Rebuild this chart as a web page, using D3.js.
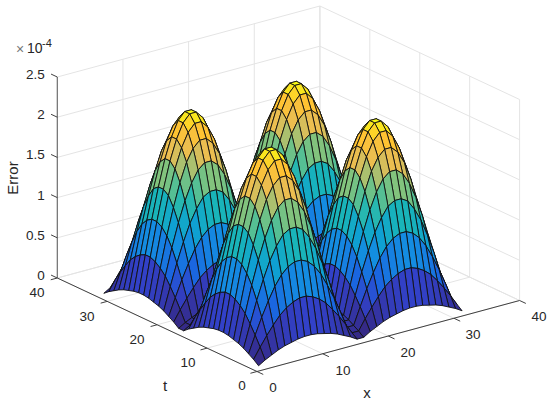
<!DOCTYPE html>
<html>
<head>
<meta charset="utf-8">
<script src="https://cdn.jsdelivr.net/npm/d3@7"></script>
<style>
  html, body { margin: 0; padding: 0; background: #fff; }
  svg { display: block; }
  text { font-family: "Liberation Sans", Arial, sans-serif; fill: #262626; }
</style>
</head>
<body>
<div id="my_dataviz"></div>
<script>
// values
var xValues = [1,2,3,4,5,6,7,8,9,10,11,12,13,14,15,16,17,18,19,20,21,22,23,24,25,26,27,28,29,30,31,32];
var tValues = [1,2,3,4,5,6,7,8,9,10,11,12,13,14,15,16,17,18,19,20,21,22,23,24,25,26,27,28,29,30,31,32];

var xTicks = [0, 10, 20, 30, 40];
var tTicks = [0, 10, 20, 30, 40];
var zTicks = [0, 0.5, 1, 1.5, 2, 2.5];
var zTickLabels = ["0", "0.5", "1", "1.5", "2", "2.5"];

// Error in units of 1e-4, one row per t, one column per x
var errorGrid = [
[.02,.07,.11,.15,.18,.20,.22,.23,.23,.22,.20,.18,.15,.11,.07,.02,.02,.07,.11,.15,.18,.20,.22,.23,.23,.22,.20,.18,.15,.11,.07,.02],
[.07,.20,.32,.43,.53,.60,.65,.68,.68,.65,.60,.53,.43,.32,.20,.07,.07,.20,.32,.43,.53,.60,.65,.68,.68,.65,.60,.53,.43,.32,.20,.07],
[.11,.32,.52,.70,.86,.98,1.06,1.10,1.10,1.06,.98,.86,.70,.52,.32,.11,.11,.32,.52,.70,.86,.98,1.06,1.10,1.10,1.06,.98,.86,.70,.52,.32,.11],
[.15,.43,.70,.94,1.15,1.31,1.43,1.48,1.48,1.43,1.31,1.15,.94,.70,.43,.15,.15,.43,.70,.94,1.15,1.31,1.43,1.48,1.48,1.43,1.31,1.15,.94,.70,.43,.15],
[.18,.53,.86,1.15,1.40,1.60,1.74,1.81,1.81,1.74,1.60,1.40,1.15,.86,.53,.18,.18,.53,.86,1.15,1.40,1.60,1.74,1.81,1.81,1.74,1.60,1.40,1.15,.86,.53,.18],
[.20,.60,.98,1.31,1.60,1.83,1.98,2.06,2.06,1.98,1.83,1.60,1.31,.98,.60,.20,.20,.60,.98,1.31,1.60,1.83,1.98,2.06,2.06,1.98,1.83,1.60,1.31,.98,.60,.20],
[.22,.65,1.06,1.43,1.74,1.98,2.15,2.24,2.24,2.15,1.98,1.74,1.43,1.06,.65,.22,.22,.65,1.06,1.43,1.74,1.98,2.15,2.24,2.24,2.15,1.98,1.74,1.43,1.06,.65,.22],
[.23,.68,1.10,1.48,1.81,2.06,2.24,2.33,2.33,2.24,2.06,1.81,1.48,1.10,.68,.23,.23,.68,1.10,1.48,1.81,2.06,2.24,2.33,2.33,2.24,2.06,1.81,1.48,1.10,.68,.23],
[.23,.68,1.10,1.48,1.81,2.06,2.24,2.33,2.33,2.24,2.06,1.81,1.48,1.10,.68,.23,.23,.68,1.10,1.48,1.81,2.06,2.24,2.33,2.33,2.24,2.06,1.81,1.48,1.10,.68,.23],
[.22,.65,1.06,1.43,1.74,1.98,2.15,2.24,2.24,2.15,1.98,1.74,1.43,1.06,.65,.22,.22,.65,1.06,1.43,1.74,1.98,2.15,2.24,2.24,2.15,1.98,1.74,1.43,1.06,.65,.22],
[.20,.60,.98,1.31,1.60,1.83,1.98,2.06,2.06,1.98,1.83,1.60,1.31,.98,.60,.20,.20,.60,.98,1.31,1.60,1.83,1.98,2.06,2.06,1.98,1.83,1.60,1.31,.98,.60,.20],
[.18,.53,.86,1.15,1.40,1.60,1.74,1.81,1.81,1.74,1.60,1.40,1.15,.86,.53,.18,.18,.53,.86,1.15,1.40,1.60,1.74,1.81,1.81,1.74,1.60,1.40,1.15,.86,.53,.18],
[.15,.43,.70,.94,1.15,1.31,1.43,1.48,1.48,1.43,1.31,1.15,.94,.70,.43,.15,.15,.43,.70,.94,1.15,1.31,1.43,1.48,1.48,1.43,1.31,1.15,.94,.70,.43,.15],
[.11,.32,.52,.70,.86,.98,1.06,1.10,1.10,1.06,.98,.86,.70,.52,.32,.11,.11,.32,.52,.70,.86,.98,1.06,1.10,1.10,1.06,.98,.86,.70,.52,.32,.11],
[.07,.20,.32,.43,.53,.60,.65,.68,.68,.65,.60,.53,.43,.32,.20,.07,.07,.20,.32,.43,.53,.60,.65,.68,.68,.65,.60,.53,.43,.32,.20,.07],
[.02,.07,.11,.15,.18,.20,.22,.23,.23,.22,.20,.18,.15,.11,.07,.02,.02,.07,.11,.15,.18,.20,.22,.23,.23,.22,.20,.18,.15,.11,.07,.02],
[.02,.07,.11,.15,.18,.20,.22,.23,.23,.22,.20,.18,.15,.11,.07,.02,.02,.07,.11,.15,.18,.20,.22,.23,.23,.22,.20,.18,.15,.11,.07,.02],
[.07,.20,.32,.43,.53,.60,.65,.68,.68,.65,.60,.53,.43,.32,.20,.07,.07,.20,.32,.43,.53,.60,.65,.68,.68,.65,.60,.53,.43,.32,.20,.07],
[.11,.32,.52,.70,.86,.98,1.06,1.10,1.10,1.06,.98,.86,.70,.52,.32,.11,.11,.32,.52,.70,.86,.98,1.06,1.10,1.10,1.06,.98,.86,.70,.52,.32,.11],
[.15,.43,.70,.94,1.15,1.31,1.43,1.48,1.48,1.43,1.31,1.15,.94,.70,.43,.15,.15,.43,.70,.94,1.15,1.31,1.43,1.48,1.48,1.43,1.31,1.15,.94,.70,.43,.15],
[.18,.53,.86,1.15,1.40,1.60,1.74,1.81,1.81,1.74,1.60,1.40,1.15,.86,.53,.18,.18,.53,.86,1.15,1.40,1.60,1.74,1.81,1.81,1.74,1.60,1.40,1.15,.86,.53,.18],
[.20,.60,.98,1.31,1.60,1.83,1.98,2.06,2.06,1.98,1.83,1.60,1.31,.98,.60,.20,.20,.60,.98,1.31,1.60,1.83,1.98,2.06,2.06,1.98,1.83,1.60,1.31,.98,.60,.20],
[.22,.65,1.06,1.43,1.74,1.98,2.15,2.24,2.24,2.15,1.98,1.74,1.43,1.06,.65,.22,.22,.65,1.06,1.43,1.74,1.98,2.15,2.24,2.24,2.15,1.98,1.74,1.43,1.06,.65,.22],
[.23,.68,1.10,1.48,1.81,2.06,2.24,2.33,2.33,2.24,2.06,1.81,1.48,1.10,.68,.23,.23,.68,1.10,1.48,1.81,2.06,2.24,2.33,2.33,2.24,2.06,1.81,1.48,1.10,.68,.23],
[.23,.68,1.10,1.48,1.81,2.06,2.24,2.33,2.33,2.24,2.06,1.81,1.48,1.10,.68,.23,.23,.68,1.10,1.48,1.81,2.06,2.24,2.33,2.33,2.24,2.06,1.81,1.48,1.10,.68,.23],
[.22,.65,1.06,1.43,1.74,1.98,2.15,2.24,2.24,2.15,1.98,1.74,1.43,1.06,.65,.22,.22,.65,1.06,1.43,1.74,1.98,2.15,2.24,2.24,2.15,1.98,1.74,1.43,1.06,.65,.22],
[.20,.60,.98,1.31,1.60,1.83,1.98,2.06,2.06,1.98,1.83,1.60,1.31,.98,.60,.20,.20,.60,.98,1.31,1.60,1.83,1.98,2.06,2.06,1.98,1.83,1.60,1.31,.98,.60,.20],
[.18,.53,.86,1.15,1.40,1.60,1.74,1.81,1.81,1.74,1.60,1.40,1.15,.86,.53,.18,.18,.53,.86,1.15,1.40,1.60,1.74,1.81,1.81,1.74,1.60,1.40,1.15,.86,.53,.18],
[.15,.43,.70,.94,1.15,1.31,1.43,1.48,1.48,1.43,1.31,1.15,.94,.70,.43,.15,.15,.43,.70,.94,1.15,1.31,1.43,1.48,1.48,1.43,1.31,1.15,.94,.70,.43,.15],
[.11,.32,.52,.70,.86,.98,1.06,1.10,1.10,1.06,.98,.86,.70,.52,.32,.11,.11,.32,.52,.70,.86,.98,1.06,1.10,1.10,1.06,.98,.86,.70,.52,.32,.11],
[.07,.20,.32,.43,.53,.60,.65,.68,.68,.65,.60,.53,.43,.32,.20,.07,.07,.20,.32,.43,.53,.60,.65,.68,.68,.65,.60,.53,.43,.32,.20,.07],
[.02,.07,.11,.15,.18,.20,.22,.23,.23,.22,.20,.18,.15,.11,.07,.02,.02,.07,.11,.15,.18,.20,.22,.23,.23,.22,.20,.18,.15,.11,.07,.02]
];

// colormap, stops are error values
var colorStops = [0.02, 0.23, 0.43, 0.68, 0.86, 1.10, 1.29, 1.48, 1.66, 1.81, 2.06, 2.24, 2.33];
var colorValues = ["#352a87", "#3241c8", "#1a66e0", "#148ce1", "#0fa0d2", "#19b4b9", "#50bf97", "#82c37d", "#c0be68", "#ebbe50", "#ffc332", "#fae61e", "#f9fb15"];

var width = 550, height = 399;

var svg = d3.select("#my_dataviz")
  .append("svg")
  .attr("width", width)
  .attr("height", height);

// oblique projection: each data axis gets one scale per screen direction
var origin = [257, 371.5];
var xToPx = d3.scaleLinear().domain([0, 40]).range([0, 262.6]);
var xToPy = d3.scaleLinear().domain([0, 40]).range([0, -71]);
var tToPx = d3.scaleLinear().domain([0, 40]).range([0, -199.7]);
var tToPy = d3.scaleLinear().domain([0, 40]).range([0, -93.5]);
var zToPy = d3.scaleLinear().domain([0, 2.5]).range([0, -201]);

function project(x, t, z) {
  return [origin[0] + xToPx(x) + tToPx(t), origin[1] + xToPy(x) + tToPy(t) + zToPy(z)];
}

var color = d3.scaleLinear()
  .domain(colorStops)
  .range(colorValues)
  .interpolate(d3.interpolateRgb);

var line = d3.line();

function seg(g, a, b, stroke, w) {
  g.append("path")
    .attr("d", line([a, b]))
    .attr("fill", "none")
    .attr("stroke", stroke)
    .attr("stroke-width", w);
}

// grid on the two back walls and the floor
var grid = svg.append("g");
var gridColor = "#e4e4e4";

zTicks.forEach(function(z) {
  seg(grid, project(0, 40, z), project(40, 40, z), gridColor, 1);
  seg(grid, project(40, 40, z), project(40, 0, z), gridColor, 1);
});
xTicks.forEach(function(x) {
  seg(grid, project(x, 40, 0), project(x, 40, 2.5), gridColor, 1);
  seg(grid, project(x, 0, 0), project(x, 40, 0), gridColor, 1);
});
tTicks.forEach(function(t) {
  seg(grid, project(40, t, 0), project(40, t, 2.5), gridColor, 1);
  seg(grid, project(0, t, 0), project(40, t, 0), gridColor, 1);
});

// axis lines and ticks
var axes = svg.append("g");
var axisColor = "#404040";

seg(axes, project(0, 0, 0), project(40, 0, 0), axisColor, 1);
seg(axes, project(0, 0, 0), project(0, 40, 0), axisColor, 1);
seg(axes, project(0, 40, 0), project(0, 40, 2.5), "#666", 1.1);

var tickLenT = 1.25, tickLenX = 1;
xTicks.forEach(function(x) {
  seg(axes, project(x, 0, 0), project(x, -tickLenT, 0), axisColor, 1);
});
tTicks.forEach(function(t) {
  seg(axes, project(0, t, 0), project(-tickLenX, t, 0), axisColor, 1);
});
zTicks.forEach(function(z) {
  seg(axes, project(0, 40, z), project(0, 40 + tickLenT, z), axisColor, 1);
});

// surface, painted from the back corner to the front
var cells = [];
for (var j = tValues.length - 2; j >= 0; j--) {
  for (var i = xValues.length - 2; i >= 0; i--) {
    cells.push({i: i, j: j});
  }
}

svg.append("g")
  .selectAll("path")
  .data(cells)
  .enter()
  .append("path")
  .attr("d", function(d) {
    var i = d.i, j = d.j;
    return line([
      project(xValues[i], tValues[j], errorGrid[j][i]),
      project(xValues[i + 1], tValues[j], errorGrid[j][i + 1]),
      project(xValues[i + 1], tValues[j + 1], errorGrid[j + 1][i + 1]),
      project(xValues[i], tValues[j + 1], errorGrid[j + 1][i])
    ]) + "Z";
  })
  .attr("fill", function(d) { return color(errorGrid[d.j][d.i]); })
  .attr("stroke", "#111")
  .attr("stroke-width", 0.9)
  .attr("stroke-linejoin", "round");

// tick labels
var labels = svg.append("g").attr("font-size", 13.5);

var xLabelPos = [[273, 387], [343, 370], [408, 352], [473, 334], [539, 316]];
var tLabelPos = [[242, 385], [188, 362], [137, 339], [87, 316], [37, 292.5]];

xTicks.forEach(function(x, i) {
  labels.append("text").attr("x", xLabelPos[i][0]).attr("y", xLabelPos[i][1])
    .attr("text-anchor", "middle").attr("dominant-baseline", "central").text(x);
});
tTicks.forEach(function(t, i) {
  labels.append("text").attr("x", tLabelPos[i][0]).attr("y", tLabelPos[i][1])
    .attr("text-anchor", "middle").attr("dominant-baseline", "central").text(t);
});
zTicks.forEach(function(z, i) {
  var p = project(0, 40, z);
  labels.append("text").attr("x", p[0] - 12.5).attr("y", p[1] - 2.5)
    .attr("text-anchor", "end").attr("dominant-baseline", "central").text(zTickLabels[i]);
});

// axis titles
svg.append("text").attr("x", 367).attr("y", 392).attr("font-size", 15)
  .attr("text-anchor", "middle").attr("dominant-baseline", "central").text("x");
svg.append("text").attr("x", 165).attr("y", 385).attr("font-size", 15)
  .attr("text-anchor", "middle").attr("dominant-baseline", "central").text("t");
svg.append("text").attr("transform", "translate(12,178) rotate(-90)").attr("font-size", 15)
  .attr("text-anchor", "middle").attr("dominant-baseline", "central").text("Error");

// exponent label
svg.append("text").attr("x", 20).attr("y", 54).attr("font-size", 14)
  .attr("text-anchor", "middle").attr("fill", "#777").style("fill", "#777").text("\u00d7");
svg.append("text").attr("x", 27).attr("y", 53).attr("font-size", 14).text("10");
svg.append("text").attr("x", 42).attr("y", 47).attr("font-size", 11).text("-4");
</script>
</body>
</html>
